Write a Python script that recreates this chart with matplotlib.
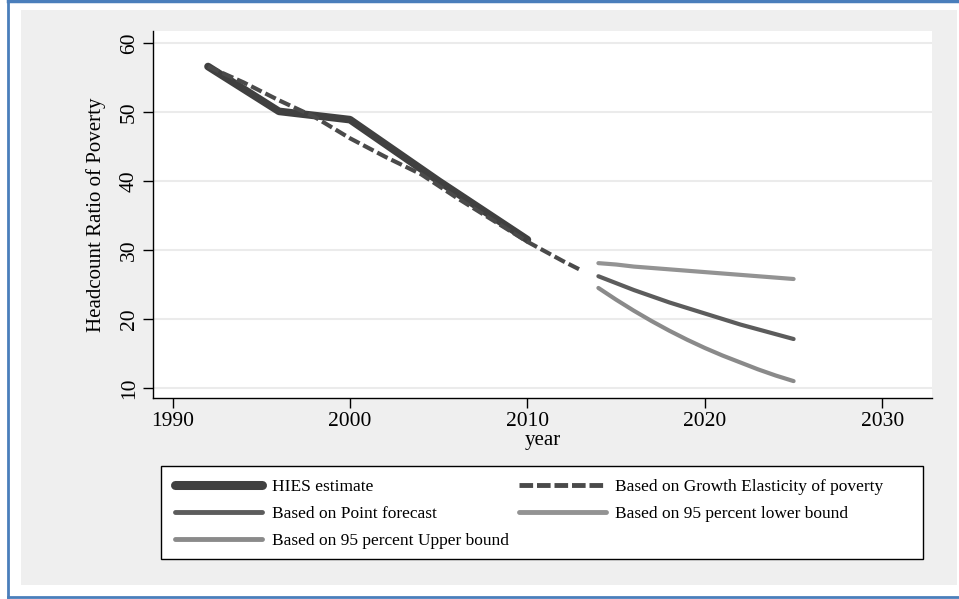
import matplotlib.pyplot as plt
from matplotlib.patches import Rectangle
from matplotlib.lines import Line2D

plt.rcParams["font.family"] = ["Liberation Serif", "DejaVu Serif"]

# HIES survey estimates of the poverty headcount ratio
hies_years = [1992, 1996, 2000, 2005, 2010]
hies_values = [56.6, 50.1, 48.9, 40.0, 31.5]

# Projection from the growth elasticity of poverty
gep_years = [1992, 1994, 1996, 1998, 2000, 2002, 2004, 2006, 2008, 2010, 2012, 2013]
gep_values = [56.6, 54.3, 51.7, 49.3, 46.2, 43.5, 41.0, 37.6, 34.4, 31.2, 28.4, 27.1]

# Time-series forecasts with 95 percent bounds
fc_years = [2014, 2015, 2016, 2017, 2018, 2019, 2020, 2021, 2022, 2023, 2024, 2025]
point_fc = [26.2, 25.2, 24.2, 23.3, 22.4, 21.6, 20.8, 20.0, 19.2, 18.5, 17.8, 17.1]
lower_fc = [28.1, 27.9, 27.6, 27.4, 27.2, 27.0, 26.8, 26.6, 26.4, 26.2, 26.0, 25.8]
upper_fc = [24.5, 22.8, 21.2, 19.7, 18.3, 17.0, 15.8, 14.7, 13.7, 12.7, 11.8, 11.0]

x_ticks = [1990, 2000, 2010, 2020, 2030]
y_ticks = [10, 20, 30, 40, 50, 60]

W, H = 959, 599
fig = plt.figure(figsize=(W / 100, H / 100), dpi=100)
fig.patch.set_facecolor("white")

# grey graph region and the blue picture frame
fig.patches.append(Rectangle((21 / W, 1 - 585 / H), 936 / W, 575 / H,
                             transform=fig.transFigure, facecolor="#efefef",
                             edgecolor="none", zorder=-10))
frame = "#4a7ebb"
fig.add_artist(Line2D([8 / W, 8 / W], [1 - 597 / H, 1 - 1 / H], color=frame, lw=2))
fig.add_artist(Line2D([8 / W, 1], [1 - 1 / H, 1 - 1 / H], color=frame, lw=2.5))
fig.add_artist(Line2D([8 / W, 1], [1 - 597 / H, 1 - 597 / H], color=frame, lw=2))

ax = fig.add_axes([153 / W, 1 - 398 / H, 779 / W, 367 / H])
ax.set_facecolor("white")

ax.plot(hies_years, hies_values, color="#404040", lw=5.5,
        solid_capstyle="round", solid_joinstyle="round", zorder=3)
ax.plot(gep_years, gep_values, color="#4a4a4a", lw=3, ls=(0, (2.8, 1.0)),
        dash_capstyle="butt", zorder=4)
ax.plot(fc_years, point_fc, color="#5c5c5c", lw=3, solid_capstyle="round")
ax.plot(fc_years, lower_fc, color="#939393", lw=3, solid_capstyle="round")
ax.plot(fc_years, upper_fc, color="#8a8a8a", lw=3, solid_capstyle="round")

ax.set_xlim(1988.9, 2032.8)
ax.set_ylim(8.55, 61.75)
ax.set_xticks(x_ticks)
ax.set_yticks(y_ticks)
ax.grid(axis="y", color="#ebebeb", lw=1.5)
ax.set_axisbelow(True)
for side in ("top", "right"):
    ax.spines[side].set_visible(False)
for side in ("left", "bottom"):
    ax.spines[side].set_linewidth(1.0)
ax.tick_params(length=7, width=1, labelsize=15.5, pad=3)
for lab in ax.get_yticklabels():
    lab.set_rotation(90)
    lab.set_va("center")
ax.set_ylabel("Headcount Ratio of Poverty", fontsize=15, labelpad=10)
ax.set_xlabel("year", fontsize=15, labelpad=0)

# legend box
fig.patches.append(Rectangle((161 / W, 1 - 559 / H), 762 / W, 93 / H,
                             transform=fig.transFigure, facecolor="white",
                             edgecolor="black", lw=1, zorder=1))
handles = [
    Line2D([], [], color="#404040", lw=6.5, solid_capstyle="round"),
    Line2D([], [], color="#5c5c5c", lw=3.5, solid_capstyle="round"),
    Line2D([], [], color="#8a8a8a", lw=3.5, solid_capstyle="round"),
    Line2D([], [], color="#4a4a4a", lw=3.5, ls=(0, (2.8, 0.8)), dash_capstyle="butt"),
    Line2D([], [], color="#939393", lw=3.5, solid_capstyle="round"),
]
labels = [
    "HIES estimate",
    "Based on Point forecast",
    "Based on 95 percent Upper bound",
    "Based on Growth Elasticity of poverty",
    "Based on 95 percent lower bound",
]
fig.legend(handles, labels, loc="upper left",
           bbox_to_anchor=(163 / W, 1 - 467 / H), ncol=2, frameon=False,
           fontsize=12.5, handlelength=5.0, handletextpad=0.55,
           columnspacing=0.6, labelspacing=0.63, borderpad=0.2)

fig.savefig("out.png", dpi=100)
